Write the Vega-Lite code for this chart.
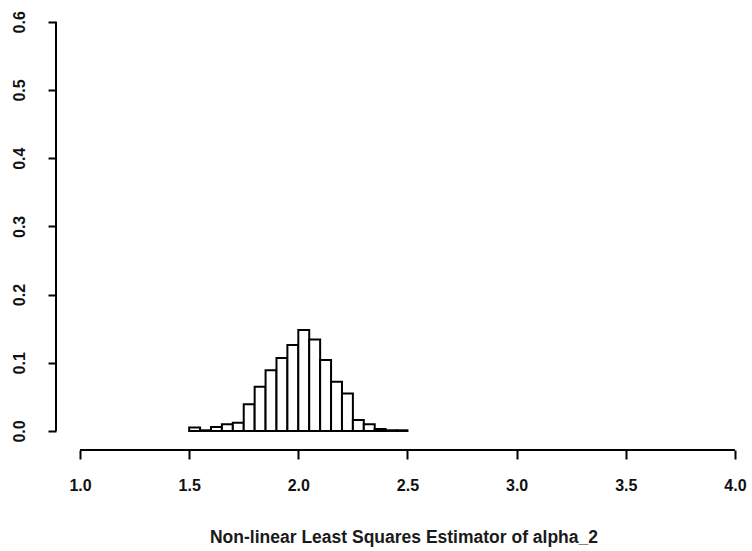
{
  "$schema": "https://vega.github.io/schema/vega-lite/v6.json",
  "autosize": {"type": "none"},
  "padding": {"left": 56, "top": 5, "right": 1, "bottom": 101},
  "width": 695,
  "height": 445,
  "background": "white",
  "config": {"view": {"stroke": null}, "font": "Liberation Sans"},
  "datasets": {
    "bars": [
      {"bin_start": 1.50, "bin_end": 1.55, "density": 0.005},
      {"bin_start": 1.55, "bin_end": 1.60, "density": 0.001},
      {"bin_start": 1.60, "bin_end": 1.65, "density": 0.006},
      {"bin_start": 1.65, "bin_end": 1.70, "density": 0.010},
      {"bin_start": 1.70, "bin_end": 1.75, "density": 0.012},
      {"bin_start": 1.75, "bin_end": 1.80, "density": 0.039},
      {"bin_start": 1.80, "bin_end": 1.85, "density": 0.065},
      {"bin_start": 1.85, "bin_end": 1.90, "density": 0.089},
      {"bin_start": 1.90, "bin_end": 1.95, "density": 0.107},
      {"bin_start": 1.95, "bin_end": 2.00, "density": 0.126},
      {"bin_start": 2.00, "bin_end": 2.05, "density": 0.148},
      {"bin_start": 2.05, "bin_end": 2.10, "density": 0.134},
      {"bin_start": 2.10, "bin_end": 2.15, "density": 0.104},
      {"bin_start": 2.15, "bin_end": 2.20, "density": 0.072},
      {"bin_start": 2.20, "bin_end": 2.25, "density": 0.055},
      {"bin_start": 2.25, "bin_end": 2.30, "density": 0.016},
      {"bin_start": 2.30, "bin_end": 2.35, "density": 0.010},
      {"bin_start": 2.35, "bin_end": 2.40, "density": 0.003},
      {"bin_start": 2.40, "bin_end": 2.45, "density": 0.001},
      {"bin_start": 2.45, "bin_end": 2.50, "density": 0.001}
    ],
    "axislines": [
      {"x": 0.8900, "x2": 0.8900, "y": 0, "y2": 0.6},
      {"x": 1.0, "x2": 4.0, "y": -0.0279, "y2": -0.0279}
    ]
  },
  "layer": [
    {
      "data": {"name": "bars"},
      "mark": {"type": "rect", "fill": "white", "stroke": "black", "strokeWidth": 2},
      "encoding": {
        "x": {
          "field": "bin_start", "type": "quantitative",
          "scale": {"domain": [0.8900, 4.0737], "nice": false, "zero": false},
          "axis": {
            "values": [1.0, 1.5, 2.0, 2.5, 3.0, 3.5, 4.0],
            "format": ".1f",
            "domain": false,
            "grid": false,
            "tickColor": "black", "tickWidth": 2, "tickSize": 9,
            "labelColor": "#111111", "labelFontSize": 16, "labelPadding": 18,
            "labelFont": "Liberation Sans", "labelFontWeight": "bold",
            "labelFlush": false,
            "title": "Non-linear Least Squares Estimator of alpha_2",
            "titleFont": "Liberation Sans", "titleFontSize": 17.5,
            "titleFontWeight": "bold", "titleColor": "#1a1a1a",
            "titlePadding": 35
          }
        },
        "x2": {"field": "bin_end"},
        "y": {
          "field": "density", "type": "quantitative",
          "scale": {"domain": [-0.0279, 0.6246], "nice": false, "zero": false},
          "axis": {
            "values": [0, 0.1, 0.2, 0.3, 0.4, 0.5, 0.6],
            "format": ".1f",
            "domain": false,
            "grid": false,
            "tickColor": "black", "tickWidth": 2, "tickSize": 8,
            "labelColor": "#111111", "labelFontSize": 16,
            "labelFont": "Liberation Sans", "labelFontWeight": "bold",
            "labelAngle": -90, "labelAlign": "center", "labelBaseline": "bottom",
            "labelPadding": 21,
            "labelFlush": false,
            "title": null
          }
        },
        "y2": {"datum": 0}
      }
    },
    {
      "data": {"name": "axislines"},
      "mark": {"type": "rule", "stroke": "black", "strokeWidth": 2},
      "encoding": {
        "x": {"field": "x", "type": "quantitative"},
        "x2": {"field": "x2"},
        "y": {"field": "y", "type": "quantitative"},
        "y2": {"field": "y2"}
      }
    }
  ]
}
